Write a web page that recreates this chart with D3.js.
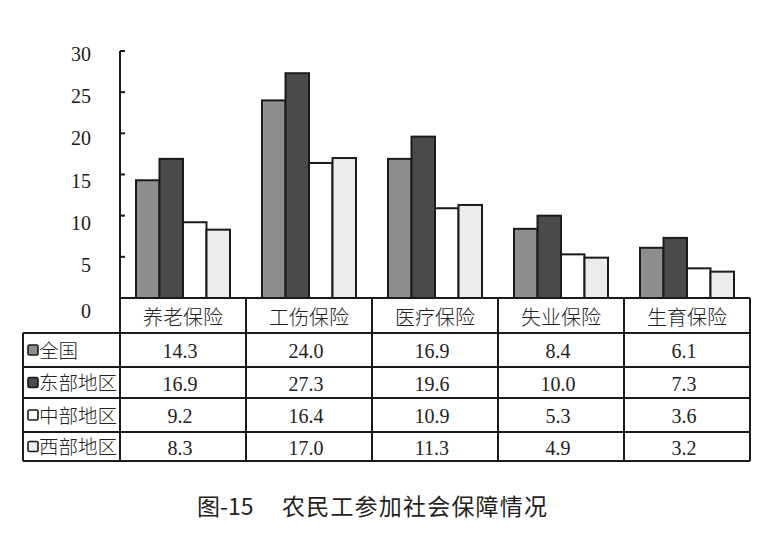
<!DOCTYPE html>
<html><head><meta charset="utf-8">
<script src="https://cdn.jsdelivr.net/npm/d3@7"></script>
<style>
body{margin:0;background:#fff;}
svg{display:block;}
</style></head>
<body>
<svg id="c" width="762" height="558"></svg>
<script>
const categories = ["养老保险","工伤保险","医疗保险","失业保险","生育保险"];
const seriesNames = ["全国","东部地区","中部地区","西部地区"];
const national = [14.3,24.0,16.9,8.4,6.1];
const east = [16.9,27.3,19.6,10.0,7.3];
const central = [9.2,16.4,10.9,5.3,3.6];
const west = [8.3,17.0,11.3,4.9,3.2];
const yTicks = [0,5,10,15,20,25,30];
const titleNumber = "图-15";
const titleText = "农民工参加社会保障情况";

(function(){
const seriesValues = [national, east, central, west];
const colors = ["#8e8e8e","#4a4a4a","#ffffff","#ececec"];

const svg = d3.select("#c");
const plotL = 120, plotR = 750, plotT = 51, base = 298;
const rowEdges = [298,333,367,398,432,461];
const tableLeft = 23;

const x = d3.scaleBand().domain(categories).range([plotL, plotR]);
const xs = d3.scaleBand().domain(seriesNames).range([16, x.bandwidth()-16]);
const y = d3.scaleLinear().domain([0,30]).range([base, plotT]);

const serif = "'Liberation Serif','Times New Roman','Noto Sans CJK SC',serif";
const ink = "#1a1a1a";

// bars
categories.forEach((c, ci) => {
  const g = svg.append("g").attr("transform", `translate(${x(c)},0)`);
  seriesNames.forEach((s, si) => {
    const v = seriesValues[si][ci];
    g.append("rect")
      .attr("x", xs(s)).attr("y", y(v))
      .attr("width", xs.bandwidth()).attr("height", base - y(v))
      .attr("fill", colors[si]).attr("stroke", ink).attr("stroke-width", 2);
  });
});

// y axis
svg.append("line").attr("x1", plotL).attr("x2", plotL).attr("y1", plotT).attr("y2", rowEdges[5])
  .attr("stroke", ink).attr("stroke-width", 2);
yTicks.forEach(t => {
  if (t > 0) svg.append("line").attr("x1", plotL).attr("x2", plotL+5).attr("y1", y(t)).attr("y2", y(t))
    .attr("stroke", ink).attr("stroke-width", 2);
  svg.append("text").attr("x", 91).attr("y", y(t) + 3 + (30 - t) * 0.2 + (t===0?4:0))
    .attr("text-anchor","end").attr("dominant-baseline","central")
    .attr("font-family", serif).attr("font-size", 20).attr("fill", ink).text(t);
});

// table lines
svg.append("line").attr("x1", plotL).attr("x2", plotR).attr("y1", rowEdges[0]).attr("y2", rowEdges[0])
  .attr("stroke", ink).attr("stroke-width", 2);
rowEdges.slice(1).forEach(r => {
  svg.append("line").attr("x1", tableLeft).attr("x2", plotR).attr("y1", r).attr("y2", r)
    .attr("stroke", ink).attr("stroke-width", 2);
});
svg.append("line").attr("x1", tableLeft).attr("x2", tableLeft).attr("y1", rowEdges[1]).attr("y2", rowEdges[5])
  .attr("stroke", ink).attr("stroke-width", 2);
categories.forEach(c => {
  const xe = x(c) + x.bandwidth();
  svg.append("line").attr("x1", xe).attr("x2", xe).attr("y1", rowEdges[0]).attr("y2", rowEdges[5])
    .attr("stroke", ink).attr("stroke-width", 2);
});

// header labels
categories.forEach(c => {
  svg.append("text").attr("x", x(c) + x.bandwidth()/2).attr("y", (rowEdges[0]+rowEdges[1])/2 + 2)
    .attr("text-anchor","middle").attr("dominant-baseline","central")
    .attr("font-family", serif).attr("font-size", 20).attr("font-weight", 300).attr("fill", "#222").text(c);
});

// rows
seriesNames.forEach((s, si) => {
  const cy = (rowEdges[si+1] + rowEdges[si+2]) / 2;
  svg.append("rect").attr("x", 28).attr("y", cy - 5).attr("width", 10).attr("height", 10)
    .attr("rx", 1.5).attr("fill", colors[si]).attr("stroke", ink).attr("stroke-width", 1.6);
  svg.append("text").attr("x", 39).attr("y", cy + 1)
    .attr("dominant-baseline","central")
    .attr("font-family", serif).attr("font-size", 19.5).attr("font-weight", 300).attr("fill", "#222").text(s);
  categories.forEach((c, ci) => {
    svg.append("text").attr("x", x(c) + x.bandwidth()/2 - 3).attr("y", cy + 1)
      .attr("text-anchor","middle").attr("dominant-baseline","central")
      .attr("font-family", serif).attr("font-size", 20).attr("fill", "#222")
      .text(seriesValues[si][ci].toFixed(1));
  });
});

// title
const tf = "'Noto Sans CJK SC','Noto Sans',sans-serif";
svg.append("text").attr("x", 197).attr("y", 505)
  .attr("dominant-baseline","central")
  .attr("font-family", tf).attr("font-size", 23)
  .attr("fill", "#231f20").text(titleNumber);
svg.append("text").attr("x", 282).attr("y", 505)
  .attr("dominant-baseline","central")
  .attr("font-family", tf).attr("font-size", 23).attr("textLength", 265)
  .attr("fill", "#231f20").text(titleText);
})();
</script>
</body></html>
